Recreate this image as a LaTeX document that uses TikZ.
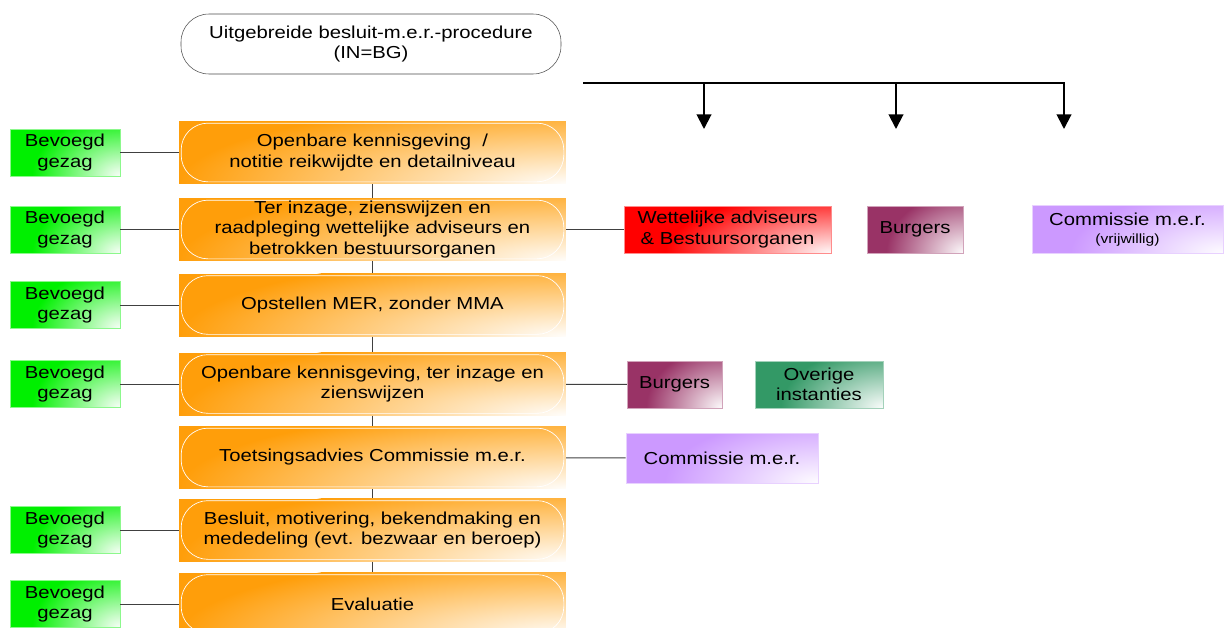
\documentclass[tikz,border=0pt]{standalone}
\usepackage{fontspec}
\setmainfont{Liberation Sans}[FakeStretch=1.17]

\usetikzlibrary{arrows.meta}

\definecolor{stapkleur}{RGB}{255,158,10}
\definecolor{gezagkleur}{RGB}{0,240,0}
\definecolor{adviesrood}{RGB}{255,0,0}
\definecolor{burgerkleur}{RGB}{153,51,102}
\definecolor{commissiekleur}{RGB}{204,153,255}
\definecolor{overigkleur}{RGB}{51,153,102}

% lichte gloed in de hoek rechtsonder van een vak (#2: breedte van de gloed t.o.v. het vak)
\newcommand\gloedvlak[2]{%
	\pgfpointdiff{\pgfpointanchor{path picture bounding box}{south west}}{\pgfpointanchor{path picture bounding box}{north east}}%
	\pgfgetlastxy{\gloedb}{\gloedh}%
	\pgfmathsetmacro\gloedschaal{#2*\gloedb/(1.3*\gloedh)}%
	\begin{scope}
		\pgftransformshift{\pgfpointanchor{path picture bounding box}{south east}}%
		\pgftransformxscale{\gloedschaal}%
		\pgflowlevelsynccm
		\shade [inner color=#1!2!white, outer color=#1] (0,0) circle (1.3*\gloedh);
	\end{scope}}

\tikzset{
	every node/.style = {font=\fontsize{13}{15.4}\selectfont, align=center, inner sep=0pt},
	lijn/.style = {draw=black!75, line width=.7pt},
	kop/.style = {draw=black!70, fill=white, rounded corners=21pt, minimum width=285pt, minimum height=45pt},
	stap/.style = {minimum width=290pt, minimum height=47pt, fill=stapkleur,
		path picture = {\gloedvlak{stapkleur}{1.0}
			\draw [white, line width=.5pt, rounded corners=20pt]
			([shift={(1.5pt,-1.5pt)}]path picture bounding box.north west) rectangle
			([shift={(-1.5pt,1.5pt)}]path picture bounding box.south east);}},
	vak/.style = {minimum height=35.25pt, fill=#1, draw=#1!45!white, line width=.4pt,
		path picture = {\gloedvlak{#1}{0.8}}},
}

\begin{document}
\begin{tikzpicture}[x=0.75pt, y=-0.75pt]
	\useasboundingbox (0,0) rectangle (1224,628);

	% titel
	\node [kop] (titel) at (371,44) {Uitgebreide besluit-m.e.r.-procedure\\(IN=BG)};

	% stappen van de procedure
	\node [stap] (o1) at (372.5,152.5) {Openbare kennisgeving \ /\\notitie reikwijdte en detailniveau};
	\node [stap] (o2) at (372.5,229.5) {Ter inzage, zienswijzen en\\raadpleging wettelijke adviseurs en\\betrokken bestuursorganen};
	\node [stap] (o3) at (372.5,305) {Opstellen MER, zonder MMA};
	\node [stap] (o4) at (372.5,384) {Openbare kennisgeving, ter inzage en\\zienswijzen};
	\node [stap] (o5) at (372.5,457.5) {Toetsingsadvies Commissie m.e.r.};
	\node [stap] (o6) at (372.5,530) {Besluit, motivering, bekendmaking en\\mededeling (evt. bezwaar en beroep)};
	\node [stap] (o7) at (372.5,604) {Evaluatie};
	\foreach \a/\b in {o1/o2, o2/o3, o3/o4, o4/o5, o5/o6, o6/o7}
		\draw [lijn] (\a) -- (\b);

	% bevoegd gezag
	\foreach \n/\y in {1/152.5, 2/229.5, 3/305, 4/384, 6/530, 7/604} {
		\node [vak=gezagkleur, minimum width=82.5pt] (g\n) at (65,\y) {Bevoegd\\gezag};
		\draw [lijn] (g\n) -- (o\n);
	}

	% betrokkenen
	\node [vak=adviesrood, minimum width=155pt] (wa) at (727.5,229.5) {Wettelijke adviseurs\\\& Bestuursorganen};
	\node [vak=burgerkleur, minimum width=72pt] (b1) at (915,229.5) {Burgers};
	\node [vak=commissiekleur, minimum width=143pt, minimum height=36pt] (c1) at (1127.5,229.5)
		{Commissie m.e.r.\\[-2pt]{\fontsize{10}{12}\selectfont (vrijwillig)}};
	\node [vak=burgerkleur, minimum width=71pt] (b2) at (674.5,384.5) {Burgers};
	\node [vak=overigkleur, minimum width=96pt] (ov) at (819,384.5) {Overige\\instanties};
	\node [vak=commissiekleur, minimum width=144pt, minimum height=37.5pt] (c2) at (722,458) {Commissie m.e.r.};
	\draw [lijn] (o2) -- (wa);
	\draw [lijn] (o4) -- (b2);
	\draw [lijn] (o5) -- (c2);

	% verdeellijn met pijlen
	\coordinate (v0) at (583,83);
	\coordinate (v1) at (704,83);
	\coordinate (v2) at (896,83);
	\coordinate (v3) at (1064,83);
	\draw [line width=1.5pt] (v0) -- ([xshift=.75pt]v3);
	\foreach \v in {v1, v2, v3}
		\draw [line width=1.5pt, -{Triangle[length=11pt, width=11pt]}] (\v) -- ++(0,46);
\end{tikzpicture}
\end{document}
